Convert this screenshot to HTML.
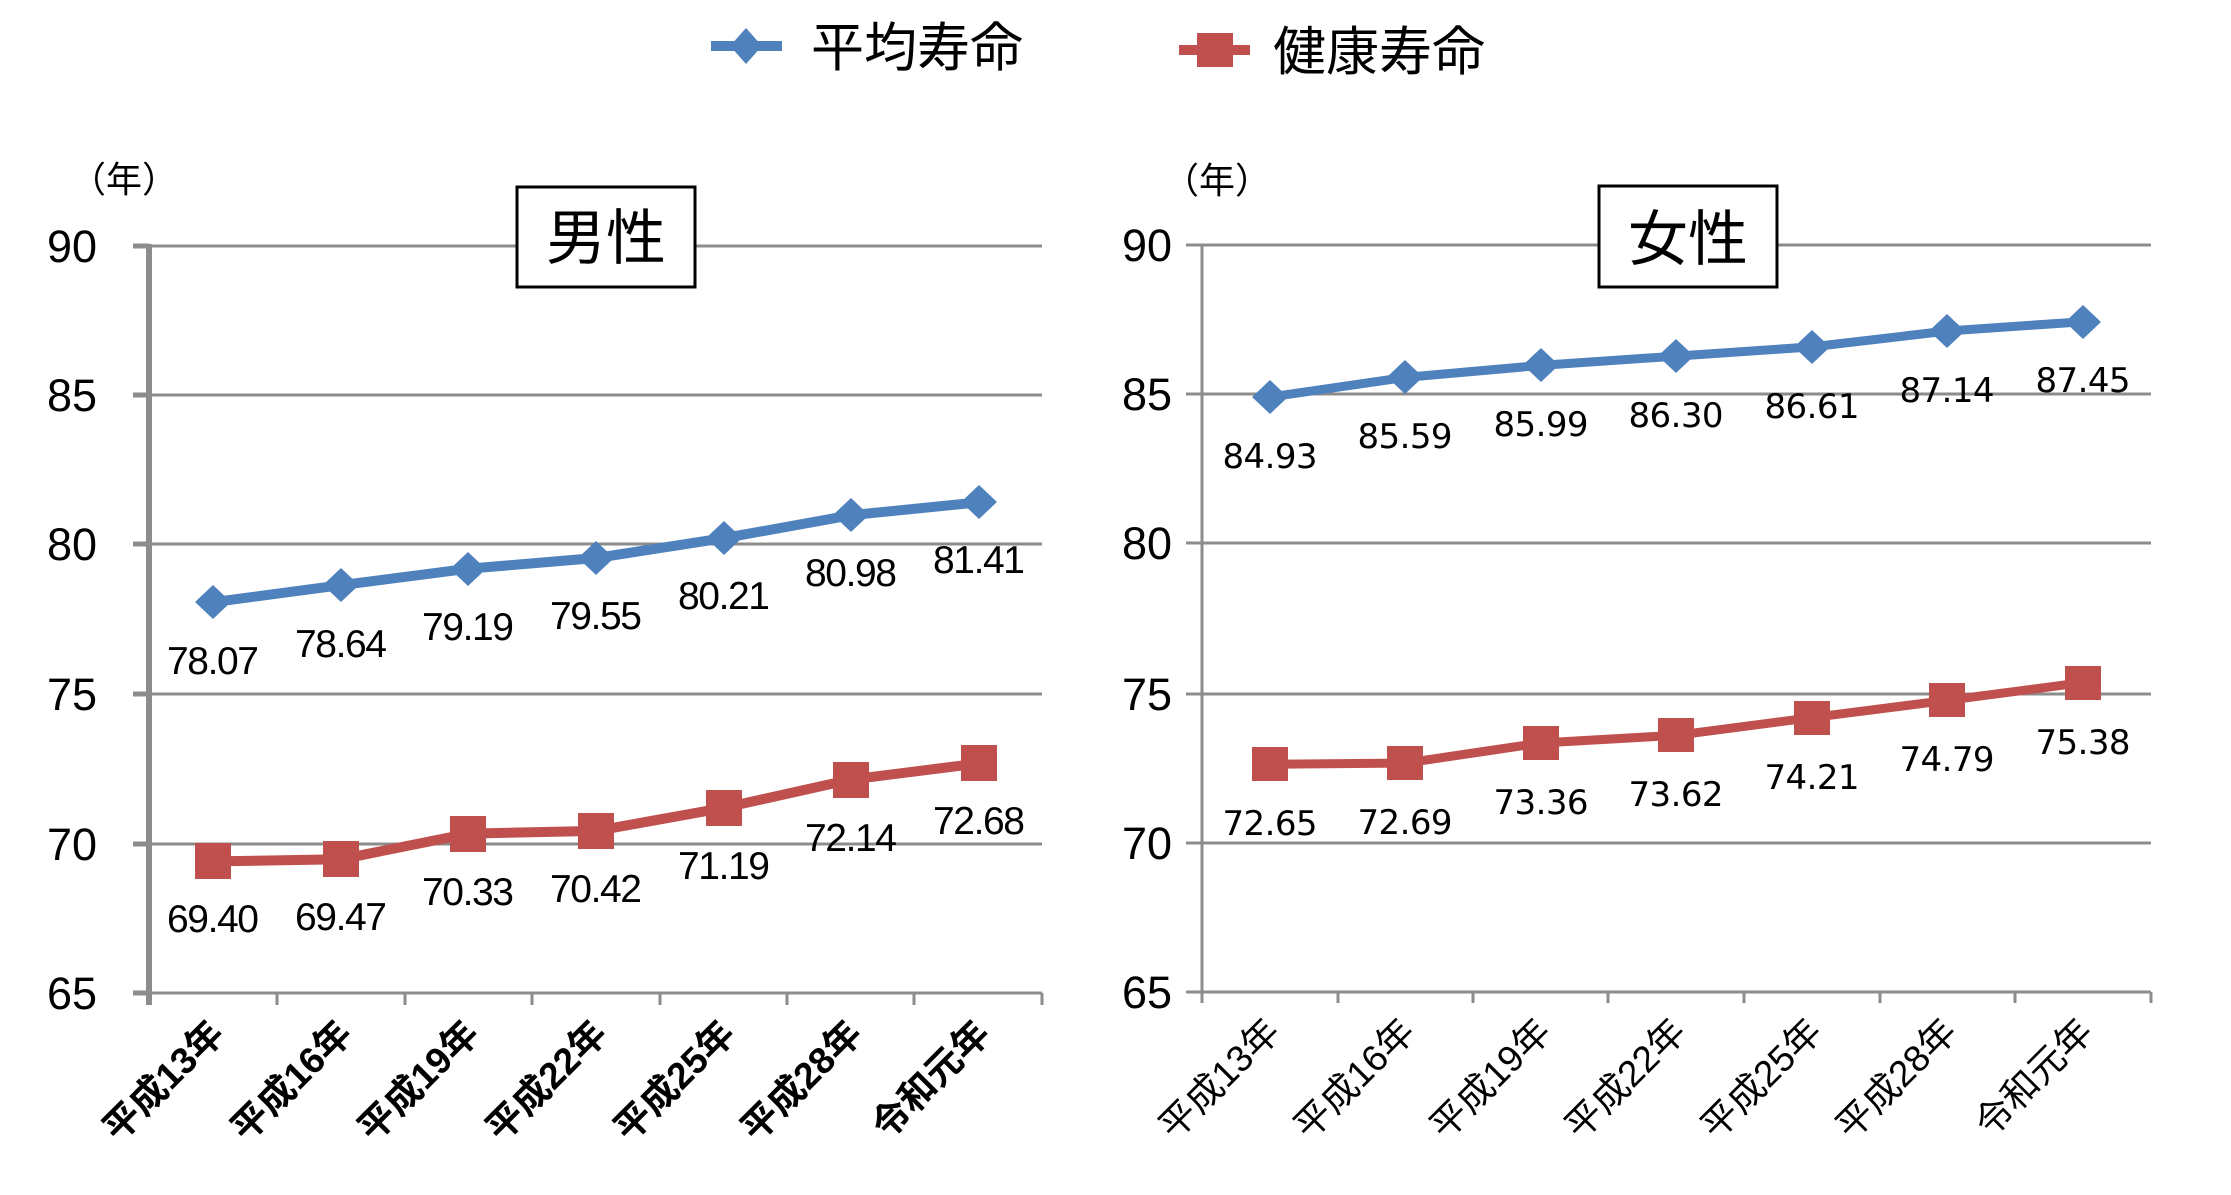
<!DOCTYPE html>
<html><head><meta charset="utf-8"><style>
html,body{margin:0;padding:0;background:#fff;}
svg{display:block;}
.cj{font-family:"Liberation Sans","Noto Sans CJK JP",sans-serif;}
.tk{font-family:"Liberation Sans","Noto Sans CJK JP",sans-serif;font-size:45px;fill:#000;}
.dl{font-family:"Liberation Sans Narrow","Liberation Sans",sans-serif;font-size:39px;fill:#000;}
.dr{font-family:"DejaVu Sans","Liberation Sans",sans-serif;font-size:34px;fill:#000;}
.xl{font-family:"Liberation Sans","Noto Sans CJK JP",sans-serif;font-size:37px;font-weight:bold;fill:#000;}
.xr{font-family:"Liberation Sans","Noto Sans CJK JP",sans-serif;font-size:37px;fill:#000;}
</style></head><body>
<svg width="2231" height="1195" viewBox="0 0 2231 1195" xmlns="http://www.w3.org/2000/svg">
<!-- Legend -->
<line x1="711" y1="46" x2="782" y2="46" stroke="#4f81bd" stroke-width="10"/>
<polygon points="746,28 762,46 746,64 730,46" fill="#4f81bd"/>
<text x="811" y="66" class="cj" font-size="53">平均寿命</text>
<line x1="1179" y1="50" x2="1250" y2="50" stroke="#c0504d" stroke-width="10"/>
<rect x="1197" y="33" width="36" height="34" fill="#c0504d"/>
<text x="1273" y="70" class="cj" font-size="53">健康寿命</text>

<!-- LEFT CHART -->
<g stroke="#8c8c8c" stroke-width="3">
<line x1="149" y1="246" x2="1042" y2="246"/>
<line x1="149" y1="395" x2="1042" y2="395"/>
<line x1="149" y1="544" x2="1042" y2="544"/>
<line x1="149" y1="694" x2="1042" y2="694"/>
<line x1="149" y1="844" x2="1042" y2="844"/>
<line x1="149" y1="993" x2="1042" y2="993"/>
<line x1="133" y1="246" x2="149" y2="246" stroke-width="5"/>
<line x1="133" y1="395" x2="149" y2="395" stroke-width="5"/>
<line x1="133" y1="544" x2="149" y2="544" stroke-width="5"/>
<line x1="133" y1="694" x2="149" y2="694" stroke-width="5"/>
<line x1="133" y1="844" x2="149" y2="844" stroke-width="5"/>
<line x1="133" y1="993" x2="149" y2="993" stroke-width="5"/>
<line x1="277" y1="993" x2="277" y2="1005"/>
<line x1="405" y1="993" x2="405" y2="1005"/>
<line x1="532" y1="993" x2="532" y2="1005"/>
<line x1="660" y1="993" x2="660" y2="1005"/>
<line x1="787" y1="993" x2="787" y2="1005"/>
<line x1="914" y1="993" x2="914" y2="1005"/>
<line x1="1042" y1="993" x2="1042" y2="1005"/>
<line x1="149" y1="244" x2="149" y2="1005" stroke-width="6"/>
</g>
<g class="tk" text-anchor="end">
<text x="97" y="262">90</text><text x="97" y="411">85</text><text x="97" y="560">80</text>
<text x="97" y="710">75</text><text x="97" y="860">70</text><text x="97" y="1009">65</text>
</g>
<text x="70" y="192" class="cj" font-size="36">（年）</text>
<rect x="517" y="187" width="178" height="100" fill="#fff" stroke="#000" stroke-width="3"/>
<text x="606" y="259" class="cj" font-size="60" text-anchor="middle">男性</text>
<polyline fill="none" stroke="#4f81bd" stroke-width="10" stroke-linejoin="round" points="213,602.2 340.8,585.2 468.4,568.7 596,558 723.6,538.2 851.2,515.2 978.8,502.3"/>
<g fill="#4f81bd">
<polygon points="213,585 231,602 213,619 195,602"/>
<polygon points="341,568 359,585 341,602 323,585"/>
<polygon points="468,552 486,569 468,586 450,569"/>
<polygon points="596,541 614,558 596,575 578,558"/>
<polygon points="724,521 742,538 724,555 706,538"/>
<polygon points="851,498 869,515 851,532 833,515"/>
<polygon points="979,485 997,502 979,519 961,502"/>
</g>
<polyline fill="none" stroke="#c0504d" stroke-width="10" stroke-linejoin="round" points="213,861.4 340.8,859.3 468.4,833.6 596,830.9 723.6,807.9 851.2,779.5 978.8,763.4"/>
<g fill="#c0504d">
<rect x="195" y="843" width="36" height="36"/>
<rect x="323" y="841" width="36" height="36"/>
<rect x="450" y="816" width="36" height="36"/>
<rect x="578" y="813" width="36" height="36"/>
<rect x="706" y="790" width="36" height="36"/>
<rect x="833" y="762" width="36" height="36"/>
<rect x="961" y="745" width="36" height="36"/>
</g>
<g class="dl" text-anchor="middle">
<text x="213" y="674" textLength="92">78.07</text>
<text x="341" y="657" textLength="92">78.64</text>
<text x="468" y="640" textLength="92">79.19</text>
<text x="596" y="629" textLength="92">79.55</text>
<text x="724" y="609" textLength="92">80.21</text>
<text x="851" y="586" textLength="92">80.98</text>
<text x="979" y="573" textLength="92">81.41</text>
<text x="213" y="932" textLength="92">69.40</text>
<text x="341" y="930" textLength="92">69.47</text>
<text x="468" y="905" textLength="92">70.33</text>
<text x="596" y="902" textLength="92">70.42</text>
<text x="724" y="879" textLength="92">71.19</text>
<text x="851" y="851" textLength="92">72.14</text>
<text x="979" y="834" textLength="92">72.68</text>
</g>
<g class="xl" text-anchor="end">
<text transform="translate(226,1036) rotate(-45)">平成13年</text>
<text transform="translate(354,1036) rotate(-45)">平成16年</text>
<text transform="translate(481,1036) rotate(-45)">平成19年</text>
<text transform="translate(609,1036) rotate(-45)">平成22年</text>
<text transform="translate(737,1036) rotate(-45)">平成25年</text>
<text transform="translate(864,1036) rotate(-45)">平成28年</text>
<text transform="translate(992,1036) rotate(-45)">令和元年</text>
</g>

<!-- RIGHT CHART -->
<g stroke="#8c8c8c" stroke-width="3">
<line x1="1186" y1="245" x2="2151" y2="245"/>
<line x1="1186" y1="394" x2="2151" y2="394"/>
<line x1="1186" y1="543" x2="2151" y2="543"/>
<line x1="1186" y1="694" x2="2151" y2="694"/>
<line x1="1186" y1="843" x2="2151" y2="843"/>
<line x1="1186" y1="992" x2="2151" y2="992"/>
<line x1="1338" y1="992" x2="1338" y2="1003"/>
<line x1="1473" y1="992" x2="1473" y2="1003"/>
<line x1="1608" y1="992" x2="1608" y2="1003"/>
<line x1="1744" y1="992" x2="1744" y2="1003"/>
<line x1="1880" y1="992" x2="1880" y2="1003"/>
<line x1="2015" y1="992" x2="2015" y2="1003"/>
<line x1="2151" y1="992" x2="2151" y2="1003"/>
<line x1="1202" y1="245" x2="1202" y2="1003"/>
</g>
<g class="tk" text-anchor="end">
<text x="1172" y="261">90</text><text x="1172" y="410">85</text><text x="1172" y="559">80</text>
<text x="1172" y="710">75</text><text x="1172" y="859">70</text><text x="1172" y="1008">65</text>
</g>
<text x="1163" y="193" class="cj" font-size="36">（年）</text>
<rect x="1599" y="186" width="178" height="101" fill="#fff" stroke="#000" stroke-width="3"/>
<text x="1688" y="260" class="cj" font-size="60" text-anchor="middle">女性</text>
<polyline fill="none" stroke="#4f81bd" stroke-width="9" stroke-linejoin="round" points="1269.8,397.1 1405.3,377.4 1540.8,365.4 1676.3,356.1 1811.8,346.9 1947.3,331 2082.8,321.7"/>
<g fill="#4f81bd">
<polygon points="1270,380 1288,397 1270,414 1252,397"/>
<polygon points="1405,360 1423,377 1405,394 1387,377"/>
<polygon points="1541,348 1559,365 1541,382 1523,365"/>
<polygon points="1676,339 1694,356 1676,373 1658,356"/>
<polygon points="1812,330 1830,347 1812,364 1794,347"/>
<polygon points="1947,314 1965,331 1947,348 1929,331"/>
<polygon points="2083,305 2101,322 2083,339 2065,322"/>
</g>
<polyline fill="none" stroke="#c0504d" stroke-width="9" stroke-linejoin="round" points="1269.8,764.3 1405.3,763.1 1540.8,743 1676.3,735.3 1811.8,717.6 1947.3,700.3 2082.8,682.6"/>
<g fill="#c0504d">
<rect x="1252" y="747" width="36" height="34"/>
<rect x="1387" y="746" width="36" height="34"/>
<rect x="1523" y="726" width="36" height="34"/>
<rect x="1658" y="718" width="36" height="34"/>
<rect x="1794" y="701" width="36" height="34"/>
<rect x="1929" y="683" width="36" height="34"/>
<rect x="2065" y="666" width="36" height="34"/>
</g>
<g class="dr" text-anchor="middle">
<text x="1270" y="468" textLength="95">84.93</text>
<text x="1405" y="448" textLength="95">85.59</text>
<text x="1541" y="436" textLength="95">85.99</text>
<text x="1676" y="427" textLength="95">86.30</text>
<text x="1812" y="418" textLength="95">86.61</text>
<text x="1947" y="402" textLength="95">87.14</text>
<text x="2083" y="392" textLength="95">87.45</text>
<text x="1270" y="835" textLength="95">72.65</text>
<text x="1405" y="834" textLength="95">72.69</text>
<text x="1541" y="814" textLength="95">73.36</text>
<text x="1676" y="806" textLength="95">73.62</text>
<text x="1812" y="789" textLength="95">74.21</text>
<text x="1947" y="771" textLength="95">74.79</text>
<text x="2083" y="754" textLength="95">75.38</text>
</g>
<g class="xr" text-anchor="end">
<text transform="translate(1282,1034) rotate(-45)">平成13年</text>
<text transform="translate(1417,1034) rotate(-45)">平成16年</text>
<text transform="translate(1553,1034) rotate(-45)">平成19年</text>
<text transform="translate(1688,1034) rotate(-45)">平成22年</text>
<text transform="translate(1824,1034) rotate(-45)">平成25年</text>
<text transform="translate(1959,1034) rotate(-45)">平成28年</text>
<text transform="translate(2095,1034) rotate(-45)">令和元年</text>
</g>
</svg>
</body></html>
